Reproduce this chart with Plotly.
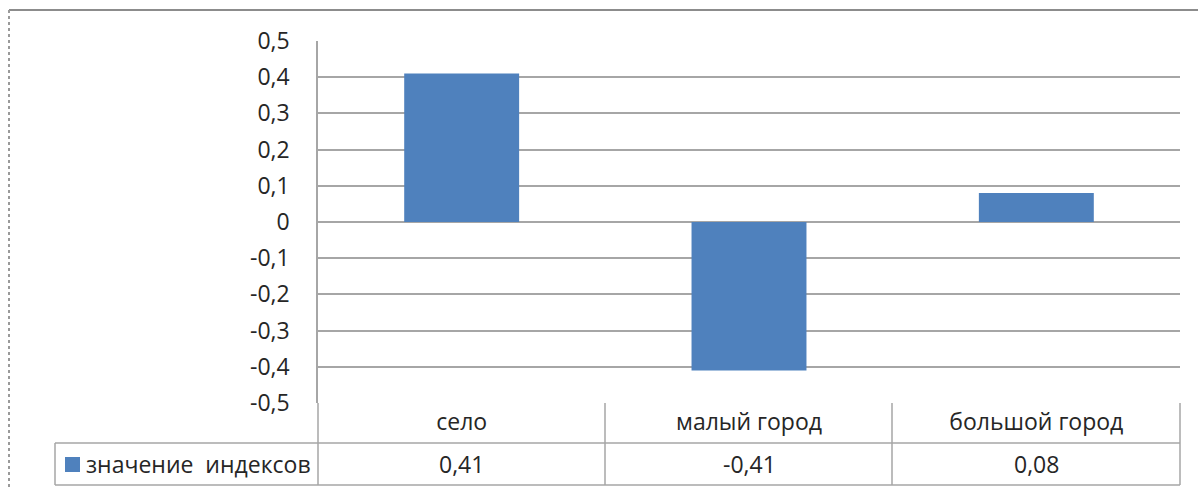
import plotly.graph_objects as go

# Index values by settlement type
categories = ["село", "малый город", "большой город"]
index_values = [0.41, -0.41, 0.08]
series_name = "значение  индексов"
y_ticks = [0.5, 0.4, 0.3, 0.2, 0.1, 0.0, -0.1, -0.2, -0.3, -0.4, -0.5]

BAR_COLOR = "#4F81BD"
GRID = "#A6A6A6"
TEXT = "#262626"
FONT = "Open Sans"
FS = 23

W, H = 1198, 490
PL, PR, PT, PB = 318, 1180, 41, 403   # plot area in pixels


def fx(x):
    return (x - PL) / (PR - PL)


def fy(y):
    return (PB - y) / (PB - PT)


def fmt_tick(v):
    if abs(v) < 1e-9:
        return "0"
    return f"{v:.1f}".replace(".", ",")


def fmt_val(v):
    return f"{v:.2f}".replace(".", ",")


fig = go.Figure()
fig.add_trace(go.Bar(
    x=categories, y=index_values, name=series_name,
    marker=dict(color=BAR_COLOR, line=dict(width=0)),
    showlegend=False,
))

shapes = []


def line(x0, y0, x1, y1, color=GRID, width=1.5, dash="solid"):
    shapes.append(dict(type="line", xref="paper", yref="paper",
                       x0=fx(x0), y0=fy(y0), x1=fx(x1), y1=fy(y1),
                       line=dict(color=color, width=width, dash=dash)))


# data table grid below the plot
ROW1_BOTTOM, ROW2_BOTTOM = 443, 485
for xv in (318, 605, 892, 1180):
    line(xv, PB, xv, ROW2_BOTTOM)
line(55, ROW1_BOTTOM, 1180, ROW1_BOTTOM)
line(55, ROW2_BOTTOM, 1180, ROW2_BOTTOM)
line(55, ROW1_BOTTOM, 55, ROW2_BOTTOM)

# chart frame
line(9, 10, 1210, 10, color="#8C8C8C", width=2)
line(9, 10, 9, 500, color="#9A9A9A", width=2, dash="dot")

# legend key
shapes.append(dict(type="rect", xref="paper", yref="paper",
                   x0=fx(65), x1=fx(80), y0=fy(472), y1=fy(457),
                   fillcolor=BAR_COLOR, line=dict(width=0)))

annotations = [dict(
    xref="paper", yref="paper", x=fx(84), y=fy(464),
    text=series_name, showarrow=False, xanchor="left", yanchor="middle",
    font=dict(family=FONT, size=FS, color=TEXT),
)]
for cat, v in zip(categories, index_values):
    annotations.append(dict(
        xref="x", yref="paper", x=cat, y=fy(464),
        text=fmt_val(v), showarrow=False, xanchor="center", yanchor="middle",
        font=dict(family=FONT, size=FS, color=TEXT),
    ))

fig.update_layout(
    width=W, height=H,
    margin=dict(l=PL, r=W - PR, t=PT, b=H - PB),
    paper_bgcolor="white", plot_bgcolor="white",
    bargap=0.6,
    font=dict(family=FONT, size=FS, color=TEXT),
    shapes=shapes,
    annotations=annotations,
    showlegend=False,
)
fig.update_yaxes(
    range=[-0.5, 0.5],
    tickvals=y_ticks, ticktext=[fmt_tick(v) for v in y_ticks],
    showgrid=True, gridcolor=GRID, gridwidth=1.5,
    zeroline=True, zerolinecolor=GRID, zerolinewidth=1.5,
    showline=True, linecolor=GRID, linewidth=1.5,
    ticks="", ticklabelstandoff=22,
    tickfont=dict(family=FONT, size=FS, color=TEXT),
)
fig.update_xaxes(
    showgrid=False, showline=False, zeroline=False, ticks="",
    ticklabelstandoff=3,
    tickfont=dict(family=FONT, size=FS, color=TEXT),
)

fig.write_html("out.html")
